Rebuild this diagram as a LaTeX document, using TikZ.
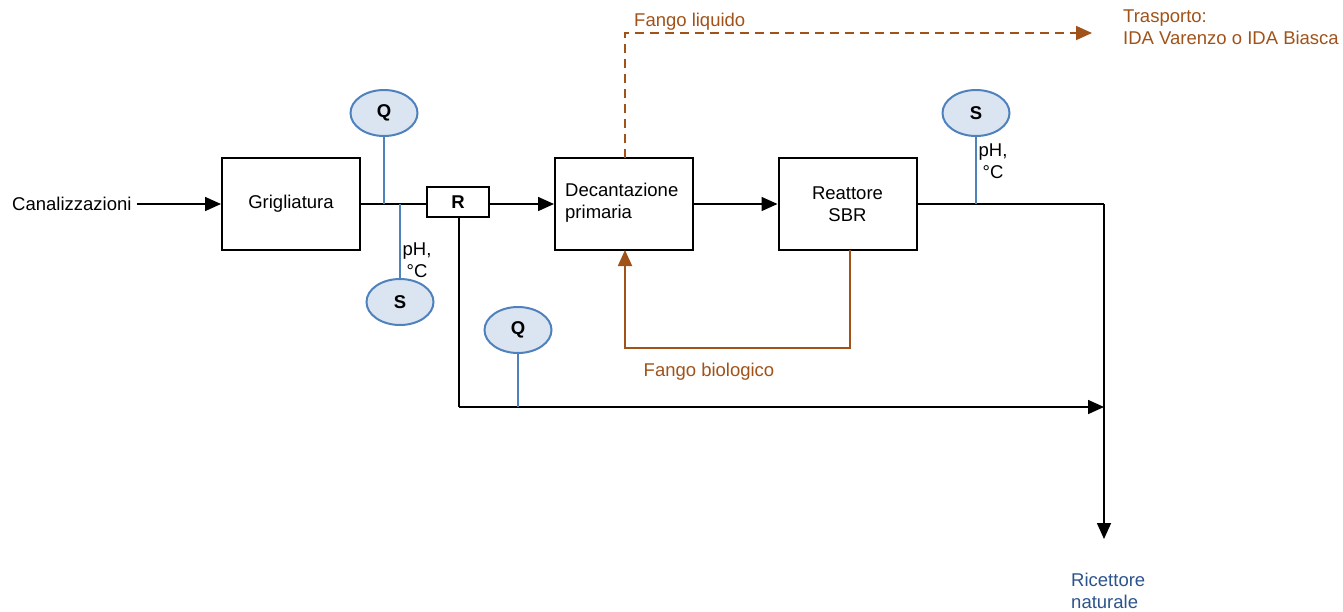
\documentclass[tikz,border=0pt]{standalone}
\usepackage{fontspec}
\setmainfont{Liberation Sans}
\usetikzlibrary{shapes.geometric,arrows.meta}
\definecolor{brn}{RGB}{160,82,24}
\definecolor{bluel}{RGB}{79,129,189}
\definecolor{bluef}{RGB}{219,229,241}
\definecolor{bluet}{RGB}{44,84,140}
\begin{document}
\begin{tikzpicture}[x=1pt,y=-1pt,
  font=\fontsize{18.5}{22}\selectfont,
  procbox/.style={draw=black,line width=2pt,minimum width=138pt,minimum height=92pt,inner sep=0pt,align=center},
  sensor/.style={ellipse,draw=bluel,fill=bluef,line width=2pt,minimum width=67pt,minimum height=46pt,inner sep=0pt,font=\fontsize{18.5}{22}\selectfont\bfseries},
  flow/.style={draw=black,line width=1.6pt},
  arr/.style={-{Triangle[length=16pt,width=14pt]}},
  sig/.style={draw=bluel,line width=1.8pt},
  brownl/.style={draw=brn,line width=1.8pt},
  lbl/.style={inner sep=0pt,align=left}
]
\useasboundingbox (0,0) rectangle (1343,611);

% process boxes
\node[procbox] (grig) at (291,204) {Grigliatura};
\node[procbox] (dec) at (624,204) {};
\node[lbl,anchor=west] (dectxt) at (565,203) {Decantazione\\primaria};
\node[procbox] (sbr) at (847.5,204) {Reattore\\SBR};
\node[draw=black,line width=2pt,minimum width=62pt,minimum height=30pt,inner sep=0pt,font=\fontsize{18.5}{22}\selectfont\bfseries] (r) at (458,202) {R};

% input
\node[lbl,anchor=west] (can) at (12,204) {Canalizzazioni};
\draw[flow,arr,shorten <=5pt] (can.east) -- (grig.west);

% grig to R
\coordinate (jq) at (384,204);
\coordinate (js) at (400,204);
\draw[flow] (grig.east) -- (r.west |- grig.east);
\draw[flow,arr] (r.east |- dec.west) -- (dec.west);
\draw[flow,arr] (dec.east) -- (sbr.west |- dec.east);

% sensors near R
\node[sensor] (q1) at (384,113) {Q};
\node[sensor] (s1) at (400,302) {S};
\draw[sig] (q1.south) -- (jq);
\draw[sig] (js) -- (s1.north);
\node[inner sep=0pt,align=center] (ph1) at (417,260) {pH,\\°C};

% bypass
\coordinate (bp1) at (459,407);
\coordinate (out) at (1104,204);
\coordinate (mrg) at (1104,407);
\coordinate (rn) at (1104,539);
\draw[flow] (r.south -| bp1) -- (bp1);
\draw[flow,arr] (bp1) -- (mrg);
\node[sensor] (q2) at (518,330) {Q};
\draw[sig] (q2.south) -- (518,407);

% output
\draw[flow] (sbr.east |- out) -- (out);
\draw[flow,arr] (out) -- (rn);
\node[sensor] (s2) at (976,113) {S};
\draw[sig] (s2.south) -- (976,204);
\node[inner sep=0pt,align=center] (ph2) at (993,161) {pH,\\°C};

\node[lbl,anchor=north west,text=bluet] (ric) at (1071,573) {Ricettore\\naturale};

% brown feedback
\coordinate (fb1) at (850,348);
\coordinate (fb2) at (625,348);
\draw[brownl,-{Triangle[length=16pt,width=14pt]}] (850,250) -- (fb1) -- (fb2) -- (625,250);
\node[inner sep=0pt,text=brn] (fbl) at (709,372) {Fango biologico};

% dashed sludge
\coordinate (fl1) at (625,33);
\coordinate (fl2) at (1092,33);
\draw[brownl,dash pattern=on 9pt off 6pt,-{Triangle[length=16pt,width=14pt]}] (625,158) -- (fl1) -- (fl2);
\node[lbl,anchor=west,text=brn] (fll) at (634,22) {Fango liquido};
\node[lbl,anchor=north west,text=brn] (tra) at (1123,10) {Trasporto:\\IDA Varenzo o IDA Biasca};
\end{tikzpicture}
\end{document}
